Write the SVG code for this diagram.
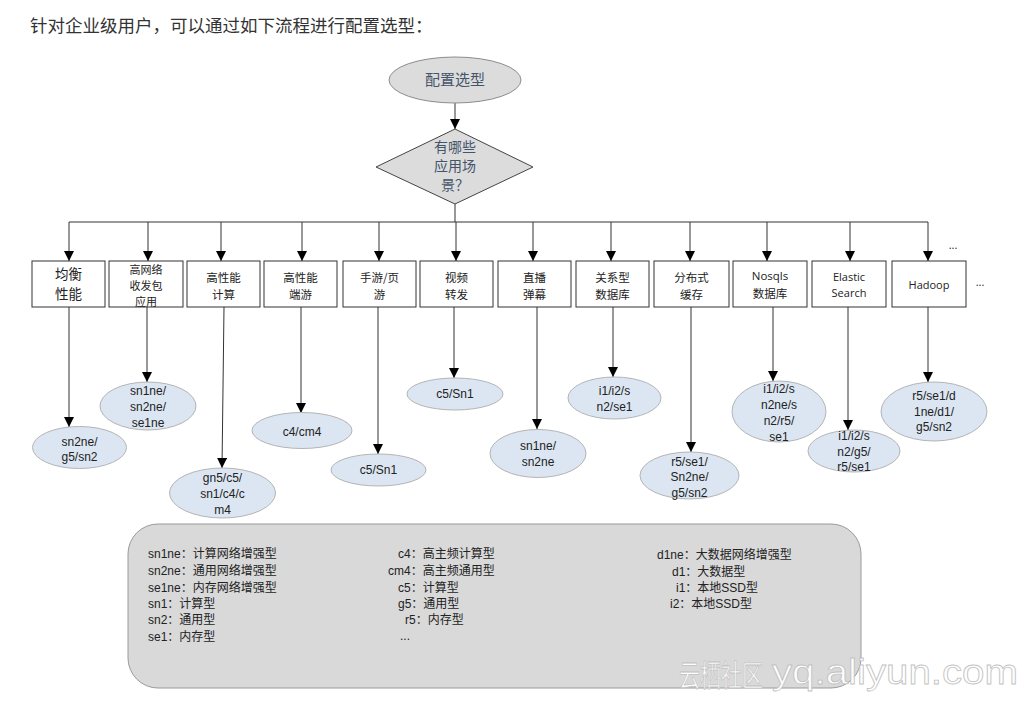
<svg xmlns="http://www.w3.org/2000/svg" width="1030" height="703" viewBox="0 0 1030 703">
<style>
.cn{font-family:"Noto Sans CJK SC","Liberation Sans",sans-serif}
.title{font-size:17.5px;fill:#333}
.slate{font-size:15px;fill:#44546a;text-anchor:middle}
.bx{fill:#fff;stroke:#333;stroke-width:1}
.bt{font-size:11.5px;fill:#222;text-anchor:middle}
.lat{font-family:"Open Sans","Liberation Sans","Noto Sans CJK SC",sans-serif;font-size:11px;fill:#222;text-anchor:middle}
.el{fill:#dce6f2;stroke:#b4b4b4;stroke-width:1}
.et{font-family:"Liberation Sans","Noto Sans CJK SC",sans-serif;font-size:12px;fill:#222;text-anchor:middle}
.ln{stroke:#333;stroke-width:1;fill:none}
.lg{font-family:"Liberation Sans","Noto Sans CJK SC",sans-serif;font-size:12px;fill:#222}
</style>
<defs>
<marker id="ah" viewBox="0 0 10 10" refX="10" refY="5" markerWidth="10" markerHeight="10" markerUnits="userSpaceOnUse" orient="auto">
<path d="M0,0 L10,5 L0,10 z" fill="#000"/>
</marker>
</defs>
<rect width="1030" height="703" fill="#fff"/>
<text class="cn title" x="30" y="32">针对企业级用户，可以通过如下流程进行配置选型：</text>

<g id="connectors">
<line class="ln" x1="455" y1="103" x2="455" y2="129" marker-end="url(#ah)"/>
<line class="ln" x1="455" y1="204" x2="455" y2="222"/>
<line class="ln" x1="69" y1="222" x2="928" y2="222"/>
<line class="ln" x1="69" y1="222" x2="69" y2="261" marker-end="url(#ah)"/>
<line class="ln" x1="148" y1="222" x2="148" y2="261" marker-end="url(#ah)"/>
<line class="ln" x1="221" y1="222" x2="221" y2="261" marker-end="url(#ah)"/>
<line class="ln" x1="302" y1="222" x2="302" y2="261" marker-end="url(#ah)"/>
<line class="ln" x1="379" y1="222" x2="379" y2="261" marker-end="url(#ah)"/>
<line class="ln" x1="456" y1="222" x2="456" y2="261" marker-end="url(#ah)"/>
<line class="ln" x1="533" y1="222" x2="533" y2="261" marker-end="url(#ah)"/>
<line class="ln" x1="611" y1="222" x2="611" y2="261" marker-end="url(#ah)"/>
<line class="ln" x1="690" y1="222" x2="690" y2="261" marker-end="url(#ah)"/>
<line class="ln" x1="767" y1="222" x2="767" y2="261" marker-end="url(#ah)"/>
<line class="ln" x1="850" y1="222" x2="850" y2="261" marker-end="url(#ah)"/>
<line class="ln" x1="928" y1="222" x2="928" y2="261" marker-end="url(#ah)"/>
<line class="ln" x1="69" y1="307" x2="69" y2="427" marker-end="url(#ah)"/>
<line class="ln" x1="147" y1="307" x2="147" y2="382" marker-end="url(#ah)"/>
<line class="ln" x1="224" y1="307" x2="222" y2="468" marker-end="url(#ah)"/>
<line class="ln" x1="301" y1="307" x2="301" y2="413" marker-end="url(#ah)"/>
<line class="ln" x1="378" y1="307" x2="378" y2="454" marker-end="url(#ah)"/>
<line class="ln" x1="454" y1="307" x2="454" y2="378" marker-end="url(#ah)"/>
<line class="ln" x1="537" y1="307" x2="537" y2="429" marker-end="url(#ah)"/>
<line class="ln" x1="613" y1="307" x2="613" y2="377" marker-end="url(#ah)"/>
<line class="ln" x1="691" y1="307" x2="691" y2="452" marker-end="url(#ah)"/>
<line class="ln" x1="773" y1="307" x2="773" y2="381" marker-end="url(#ah)"/>
<line class="ln" x1="848" y1="307" x2="848" y2="430" marker-end="url(#ah)"/>
<line class="ln" x1="928" y1="307" x2="928" y2="382" marker-end="url(#ah)"/>
</g>

<g id="start">
<ellipse cx="455" cy="80" rx="66" ry="23" fill="#dcdcdc" stroke="#8c8c8c"/>
<text class="cn slate" x="455" y="85">配置选型</text>
</g>
<g id="decision">
<polygon points="455,129 533,167 455,204 376,167" fill="#dcdcdc" stroke="#444"/>
<text class="cn slate" style="font-size:14px" x="455" y="152">有哪些</text>
<text class="cn slate" style="font-size:14px" x="455" y="171">应用场</text>
<text class="cn slate" style="font-size:14px" x="455" y="190">景？</text>
</g>

<g id="b1"><rect class="bx" x="32" y="261" width="73" height="46"/><text class="cn bt" style="font-size:13.5px" x="68.5" y="279">均衡</text><text class="cn bt" style="font-size:13.5px" x="68.5" y="299">性能</text></g>
<g id="b2"><rect class="bx" x="109" y="261" width="74" height="46"/><text class="cn bt" style="font-size:11px" x="146" y="274">高网络</text><text class="cn bt" style="font-size:11px" x="146" y="290">收发包</text><text class="cn bt" style="font-size:11px" x="146" y="306">应用</text></g>
<g id="b3"><rect class="bx" x="187" y="261" width="73" height="46"/><text class="cn bt" x="223.5" y="282">高性能</text><text class="cn bt" x="223.5" y="299">计算</text></g>
<g id="b4"><rect class="bx" x="264" y="261" width="73" height="46"/><text class="cn bt" x="300.5" y="282">高性能</text><text class="cn bt" x="300.5" y="299">端游</text></g>
<g id="b5"><rect class="bx" x="343" y="261" width="73" height="46"/><text class="cn bt" x="379.5" y="282">手游/页</text><text class="cn bt" x="379.5" y="299">游</text></g>
<g id="b6"><rect class="bx" x="420" y="261" width="73" height="46"/><text class="cn bt" x="456.5" y="282">视频</text><text class="cn bt" x="456.5" y="299">转发</text></g>
<g id="b7"><rect class="bx" x="498" y="261" width="73" height="46"/><text class="cn bt" x="534.5" y="282">直播</text><text class="cn bt" x="534.5" y="299">弹幕</text></g>
<g id="b8"><rect class="bx" x="576" y="261" width="73" height="46"/><text class="cn bt" x="612.5" y="282">关系型</text><text class="cn bt" x="612.5" y="299">数据库</text></g>
<g id="b9"><rect class="bx" x="654" y="261" width="75" height="46"/><text class="cn bt" x="691.5" y="282">分布式</text><text class="cn bt" x="691.5" y="299">缓存</text></g>
<g id="b10"><rect class="bx" x="733" y="261" width="74" height="46"/><text class="lat" style="font-size:11.5px" x="770" y="280">Nosqls</text><text class="cn bt" x="770" y="298">数据库</text></g>
<g id="b11"><rect class="bx" x="812" y="261" width="74" height="46"/><text class="lat" x="849" y="281">Elastic</text><text class="lat" x="849" y="297">Search</text></g>
<g id="b12"><rect class="bx" x="892" y="261" width="74" height="46"/><text class="lat" x="929" y="289">Hadoop</text></g>
<text class="lat" x="953" y="249">...</text>
<text class="lat" x="980" y="286">...</text>

<g id="e1"><ellipse class="el" cx="79.5" cy="447.5" rx="47" ry="21"/><text class="et" x="79.5" y="446">sn2ne/</text><text class="et" x="79.5" y="461">g5/sn2</text></g>
<g id="e2"><ellipse class="el" cx="148" cy="406" rx="48" ry="24"/><text class="et" x="148" y="395">sn1ne/</text><text class="et" x="148" y="411">sn2ne/</text><text class="et" x="148" y="427">se1ne</text></g>
<g id="e3"><ellipse class="el" cx="222.5" cy="493" rx="53" ry="25"/><text class="et" x="222.5" y="482">gn5/c5/</text><text class="et" x="222.5" y="498">sn1/c4/c</text><text class="et" x="222.5" y="514">m4</text></g>
<g id="e4"><ellipse class="el" cx="302" cy="430.5" rx="50" ry="18"/><text class="et" x="302" y="436">c4/cm4</text></g>
<g id="e5"><ellipse class="el" cx="378.5" cy="470" rx="47.5" ry="16"/><text class="et" x="378.5" y="474">c5/Sn1</text></g>
<g id="e6"><ellipse class="el" cx="455" cy="394" rx="48" ry="16"/><text class="et" x="455" y="398">c5/Sn1</text></g>
<g id="e7"><ellipse class="el" cx="538" cy="453.5" rx="48" ry="24"/><text class="et" x="538" y="450">sn1ne/</text><text class="et" x="538" y="466">sn2ne</text></g>
<g id="e8"><ellipse class="el" cx="614.5" cy="398" rx="46.5" ry="21"/><text class="et" x="614.5" y="395">i1/i2/s</text><text class="et" x="614.5" y="411">n2/se1</text></g>
<g id="e9"><ellipse class="el" cx="689.5" cy="475.5" rx="49.5" ry="23.5"/><text class="et" x="689.5" y="466">r5/se1/</text><text class="et" x="689.5" y="481">Sn2ne/</text><text class="et" x="689.5" y="497">g5/sn2</text></g>
<g id="e10"><ellipse class="el" cx="779" cy="411.5" rx="47" ry="30.5"/><text class="et" x="779" y="393">i1/i2/s</text><text class="et" x="779" y="409">n2ne/s</text><text class="et" x="779" y="425">n2/r5/</text><text class="et" x="779" y="441">se1</text></g>
<g id="e11"><ellipse class="el" cx="854" cy="451" rx="46" ry="21"/><text class="et" x="854" y="440">i1/i2/s</text><text class="et" x="854" y="456">n2/g5/</text><text class="et" x="854" y="471">r5/se1</text></g>
<g id="e12"><ellipse class="el" cx="934" cy="411.5" rx="53" ry="29.5"/><text class="et" x="934" y="400">r5/se1/d</text><text class="et" x="934" y="416">1ne/d1/</text><text class="et" x="934" y="431">g5/sn2</text></g>

<g id="legend">
<rect x="128" y="524" width="733" height="164" rx="30" ry="30" fill="#d9d9d9" stroke="#9a9a9a"/>
<text class="lg" x="148" y="558">sn1ne：计算网络增强型</text>
<text class="lg" x="148" y="575">sn2ne：通用网络增强型</text>
<text class="lg" x="148" y="592">se1ne：内存网络增强型</text>
<text class="lg" x="148" y="608">sn1：计算型</text>
<text class="lg" x="148" y="624">sn2：通用型</text>
<text class="lg" x="148" y="641">se1：内存型</text>
<text class="lg" x="398" y="558">c4：高主频计算型</text>
<text class="lg" x="388" y="575">cm4：高主频通用型</text>
<text class="lg" x="398" y="592">c5：计算型</text>
<text class="lg" x="398" y="608">g5：通用型</text>
<text class="lg" x="405" y="624">r5：内存型</text>
<text class="lg" x="400" y="640">...</text>
<text class="lg" x="657" y="559">d1ne：大数据网络增强型</text>
<text class="lg" x="672" y="576">d1：大数据型</text>
<text class="lg" x="676" y="592">i1：本地SSD型</text>
<text class="lg" x="670" y="608">i2：本地SSD型</text>
</g>

<g id="watermark" fill="#fff" stroke="#c0c0c0" stroke-width="0.8" opacity="0.95">
<text transform="translate(679,686) scale(0.7,1)" font-family="Noto Sans CJK SC, sans-serif" font-size="30">云栖社区</text>
<text x="772" y="684" font-family="Liberation Sans, sans-serif" font-size="35" textLength="246" lengthAdjust="spacingAndGlyphs">yq.aliyun.com</text>
</g>
</svg>
